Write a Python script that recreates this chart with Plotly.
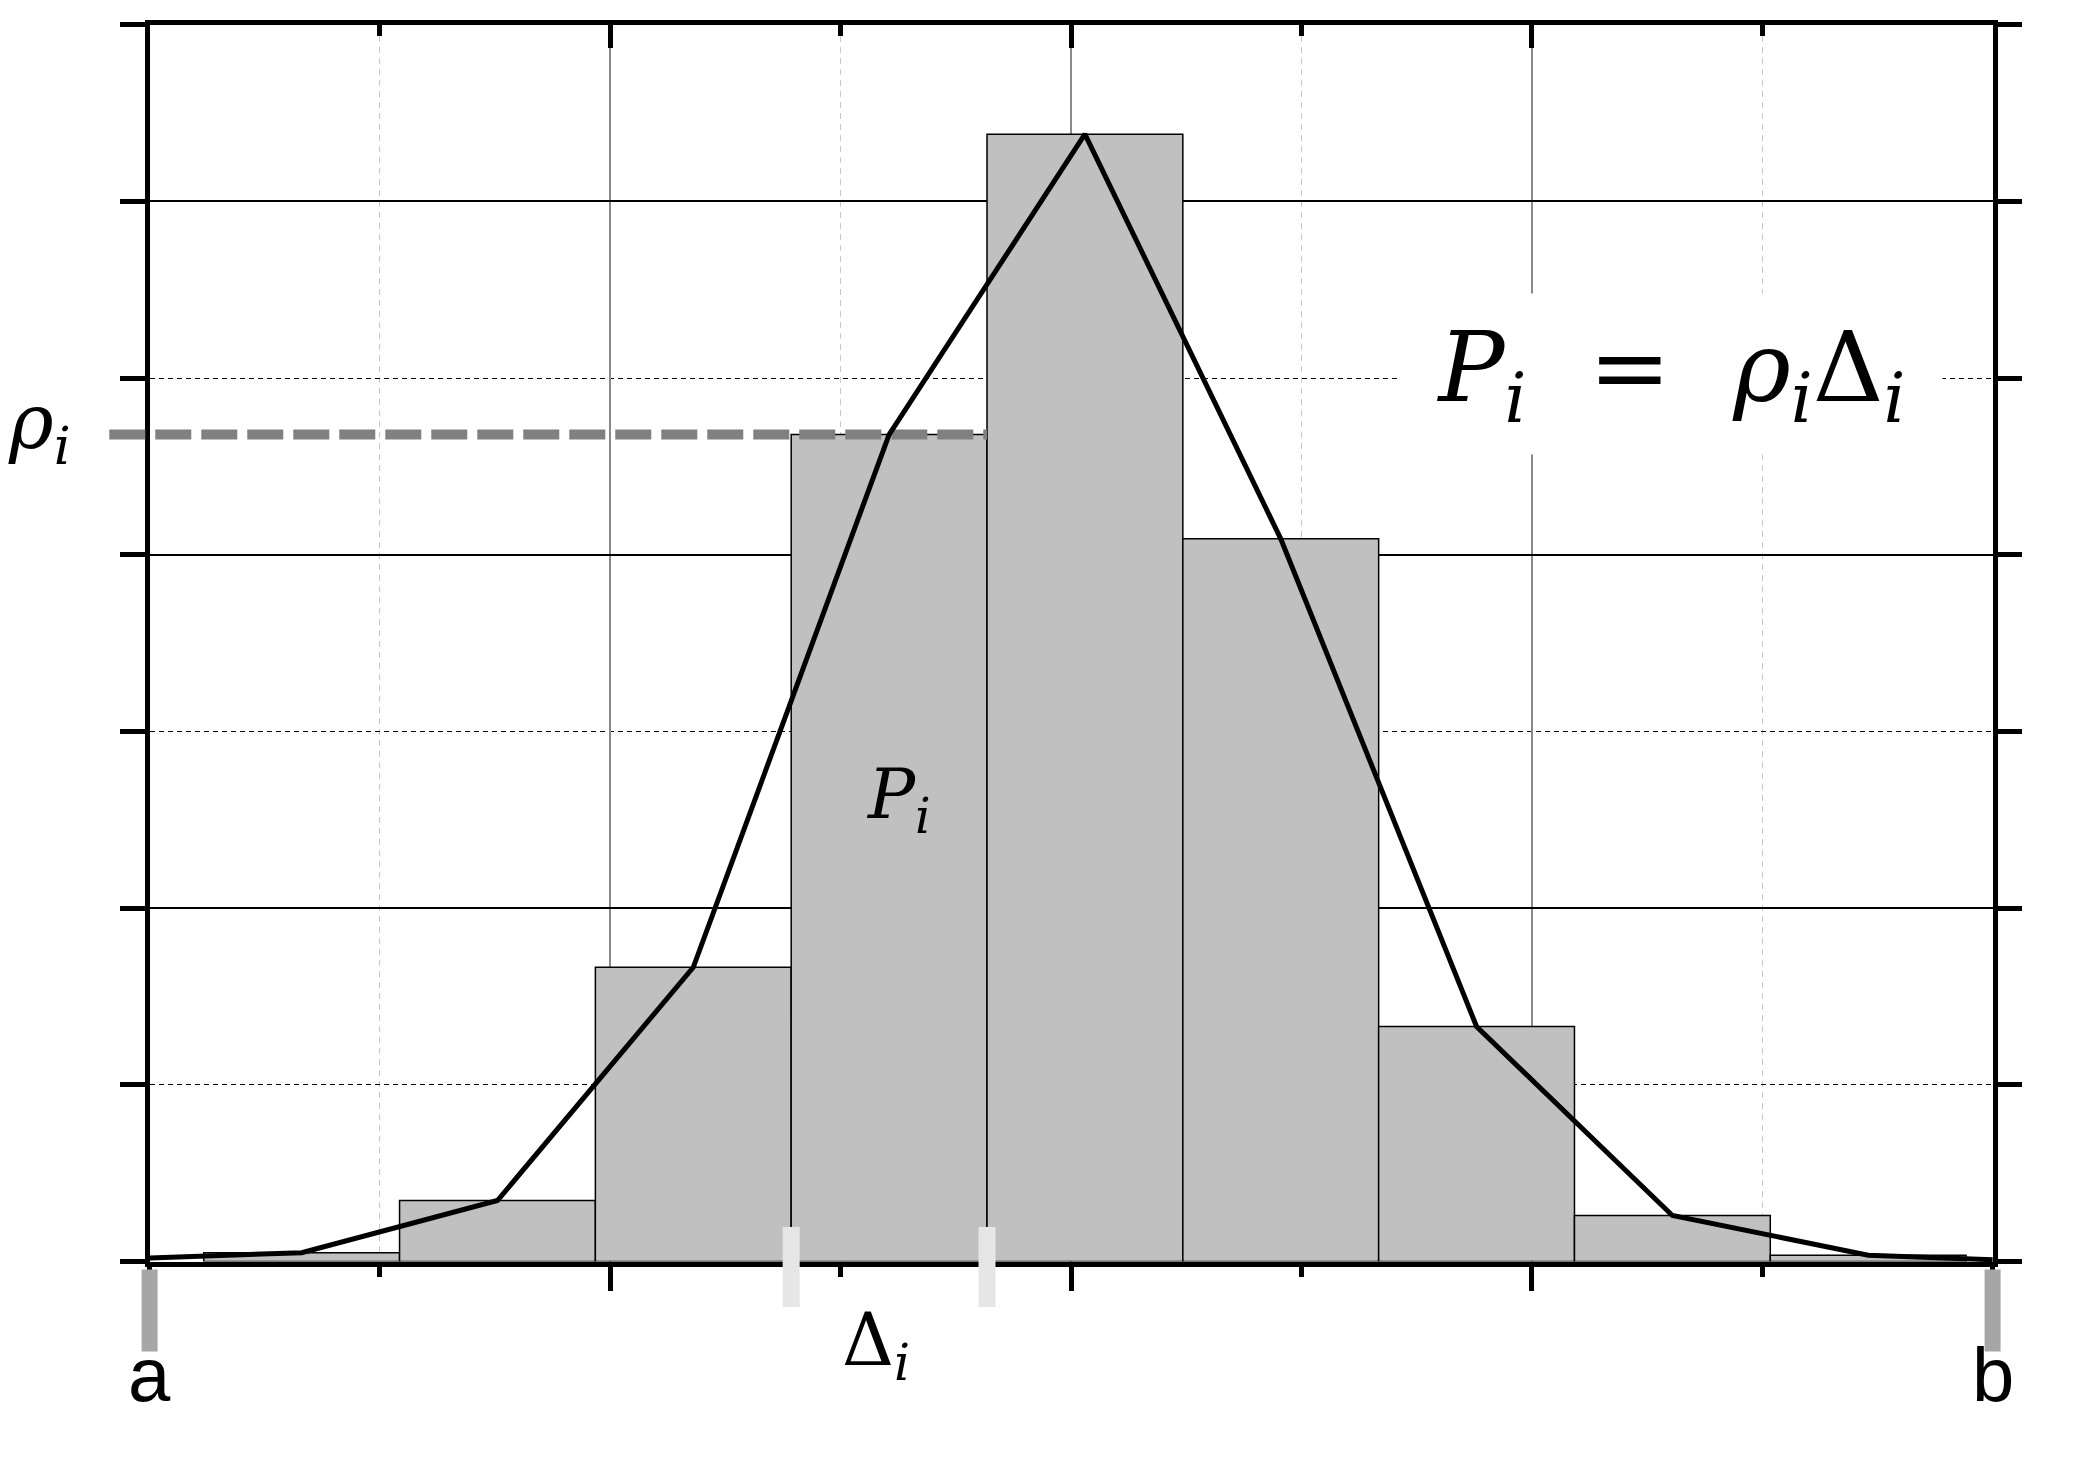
import plotly.graph_objects as go

# ---------------- data ----------------
bin_edges = [0.235, 1.085, 1.935, 2.785, 3.635, 4.485, 5.335, 6.185, 7.035, 7.885]
bin_heights = [0.05, 0.345, 1.665, 4.68, 6.38, 4.09, 1.33, 0.26, 0.036]
poly_x = [0.0, 0.66, 1.51, 2.36, 3.21, 4.06, 4.91, 5.76, 6.61, 7.46, 8.0]
poly_y = [0.02, 0.05, 0.345, 1.665, 4.68, 6.38, 4.09, 1.33, 0.26, 0.036, 0.01]
interval = [0.0, 8.0]          # a, b
interval_labels = ["a", "b"]
sel = 3                        # index of the highlighted bin i
x_range = [0, 8]
y_range = [0, 7]

# ---------------- geometry / style ----------------
W, H = 2085, 1471
PL, PR, PT, PB = 149.6, 1992.6, 24.6, 1261.5
px_x = (PR - PL) / (x_range[1] - x_range[0])
px_y = (PB - PT) / (y_range[1] - y_range[0])
x2_range = [x_range[0] - PL / px_x, x_range[1] + (W - PR) / px_x]
y2_range = [y_range[0] - (H - PB) / px_y, y_range[1] + PT / px_y]

AB_TOP, AB_BOT = -0.045, -0.51      # a/b marker extent (y units)
D_TOP, D_BOT = 0.195, -0.257        # Δ marker extent
RHO_X0 = -0.175                      # start of ρ dashed guide

centers = [(l + r) / 2 for l, r in zip(bin_edges[:-1], bin_edges[1:])]
widths = [r - l for l, r in zip(bin_edges[:-1], bin_edges[1:])]
rho = bin_heights[sel]
left_e, right_e = bin_edges[sel], bin_edges[sel + 1]

fig = go.Figure()

fig.add_trace(go.Bar(
    x=centers, y=bin_heights, width=widths,
    marker=dict(color="#c0c0c0", line=dict(color="black", width=1.5)),
    xaxis="x", yaxis="y", hoverinfo="skip"))

# empty trace so the top overlay axis exists
fig.add_trace(go.Scatter(x=[], y=[], xaxis="x3", yaxis="y", hoverinfo="skip"))

# Δ markers at the edges of the selected bin
fig.add_trace(go.Scatter(
    x=[left_e, left_e, None, right_e, right_e],
    y=[D_TOP, D_BOT, None, D_TOP, D_BOT],
    mode="lines", line=dict(color="#e6e6e6", width=17),
    xaxis="x2", yaxis="y2", hoverinfo="skip", connectgaps=False))

# a / b markers
fig.add_trace(go.Scatter(
    x=[interval[0], interval[0], None, interval[1], interval[1]],
    y=[AB_TOP, AB_BOT, None, AB_TOP, AB_BOT],
    mode="lines", line=dict(color="#a6a6a6", width=16),
    xaxis="x2", yaxis="y2", hoverinfo="skip", connectgaps=False))

# ρ_i dashed guide
fig.add_trace(go.Scatter(
    x=[RHO_X0, right_e], y=[rho, rho],
    mode="lines", line=dict(color="#808080", width=10, dash="36px,10px"),
    xaxis="x2", yaxis="y2", hoverinfo="skip"))

# frequency polygon
fig.add_trace(go.Scatter(
    x=poly_x, y=poly_y, mode="lines",
    line=dict(color="black", width=5),
    xaxis="x2", yaxis="y2", hoverinfo="skip"))

serif = "DejaVu Serif"
sans = "Liberation Sans"
NB = "\u00a0"
formula = ("<i>P</i><sub><i>i</i></sub>" + NB * 2 + "=" + NB * 2 +
           "<i>ρ</i><sub><i>i</i></sub>Δ<sub><i>i</i></sub>")
annos = [
    dict(x=6.603, y=5.02, text=formula,
         font=dict(family=serif, size=98, color="black"), bgcolor="white", width=540, height=158),
    dict(x=3.25, y=2.62, text="<i>P</i><sub><i>i</i></sub>", font=dict(family=serif, size=70, color="black")),
    dict(x=-0.48, y=4.72, text="<i>ρ</i><sub><i>i</i></sub>", font=dict(family=serif, size=76, color="black")),
    dict(x=3.153, y=-0.47, text="Δ<sub><i>i</i></sub>", font=dict(family=serif, size=72, color="black")),
    dict(x=interval[0], y=-0.64, text=interval_labels[0], font=dict(family=sans, size=76, color="black")),
    dict(x=interval[1], y=-0.64, text=interval_labels[1], font=dict(family=sans, size=76, color="black")),
]
for a in annos:
    a.update(xref="x2", yref="y2", showarrow=False, xanchor="center", yanchor="middle")

LW = 4.5
tick_common = dict(ticklen=25, tickwidth=LW, tickcolor="black", showticklabels=False)

fig.update_layout(
    width=W, height=H,
    margin=dict(l=0, r=0, t=0, b=0, pad=0),
    paper_bgcolor="white", plot_bgcolor="rgba(0,0,0,0)",
    showlegend=False,
    annotations=annos,
    xaxis=dict(domain=[PL / W, PR / W], range=x_range, anchor="y",
               showline=True, linewidth=LW, linecolor="black", mirror=True,
               ticks="outside", tickmode="linear", tick0=0, dtick=2, **tick_common,
               showgrid=True, gridcolor="#8a8a8a", gridwidth=1.5, zeroline=False,
               minor=dict(tickmode="linear", tick0=0, dtick=1, ticks="outside", ticklen=11,
                          tickwidth=LW, tickcolor="black", showgrid=True,
                          gridcolor="#c8c8c8", gridwidth=1, griddash="6px,5px")),
    xaxis3=dict(overlaying="x", side="top", anchor="y", range=x_range,
                ticks="inside", tickmode="linear", tick0=0, dtick=2,
                ticklen=23, tickwidth=LW, tickcolor="black", showticklabels=False,
                showgrid=False, showline=False, zeroline=False,
                minor=dict(tickmode="linear", tick0=0, dtick=1, ticks="inside", ticklen=11,
                           tickwidth=LW, tickcolor="black", showgrid=False)),
    yaxis=dict(domain=[1 - PB / H, 1 - PT / H], range=y_range, anchor="x",
               showline=True, linewidth=LW, linecolor="black", mirror="allticks",
               ticks="outside", tickmode="linear", tick0=0, dtick=2, **tick_common,
               showgrid=True, gridcolor="black", gridwidth=1.5, zeroline=False,
               minor=dict(tickmode="linear", tick0=0, dtick=1, ticks="outside", ticklen=11,
                          tickwidth=LW, tickcolor="black", showgrid=True,
                          gridcolor="black", gridwidth=1, griddash="5px,4px")),
    xaxis2=dict(domain=[0, 1], range=x2_range, anchor="y2", visible=False, fixedrange=True),
    yaxis2=dict(domain=[0, 1], range=y2_range, anchor="x2", visible=False, fixedrange=True),
)

fig.write_html("out.html", config={"displayModeBar": False},
               post_script="document.body.style.margin='0';document.body.style.overflow='hidden';")
